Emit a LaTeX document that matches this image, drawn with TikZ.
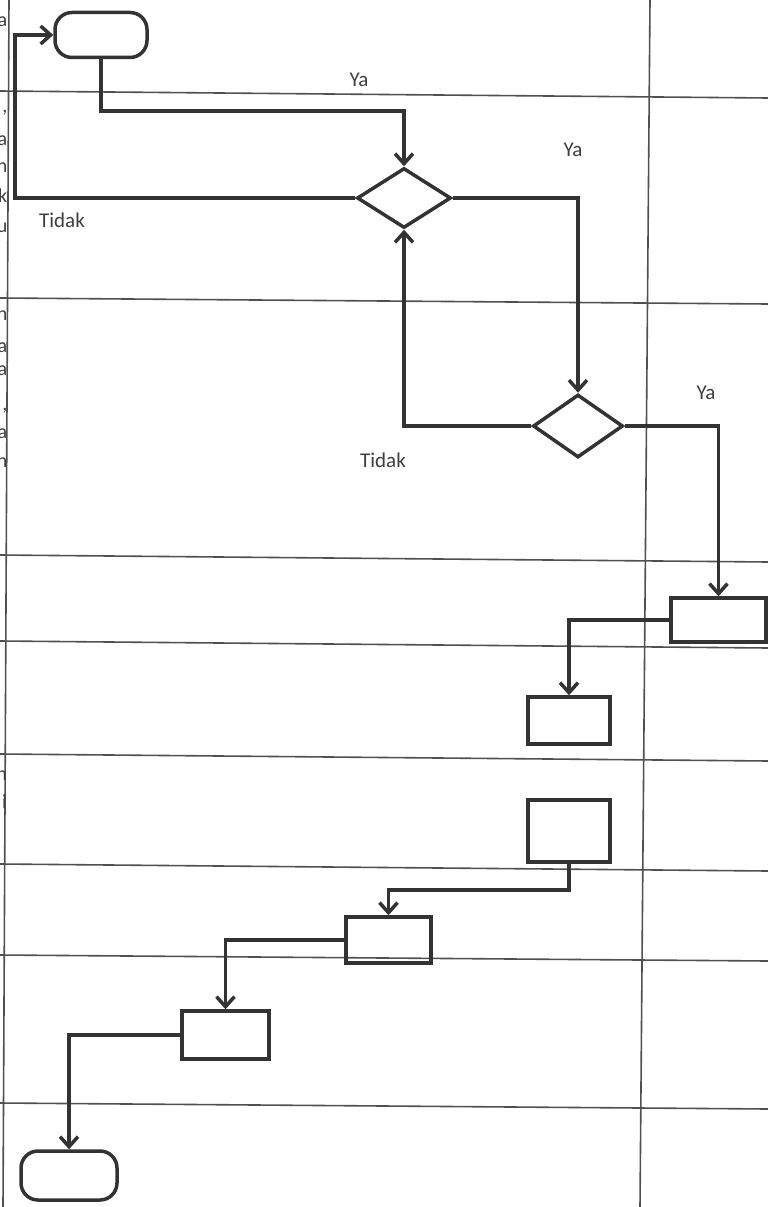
\documentclass[tikz,border=0pt]{standalone}
\usepackage{fontspec}
\setmainfont{Carlito}
\usetikzlibrary{arrows.meta,shapes.geometric}
\definecolor{ink}{HTML}{333333}
\definecolor{grid}{HTML}{505050}
\definecolor{txt}{HTML}{3F3F3F}
\tikzset{
  conn/.style={draw=ink,line width=3.5pt,line join=miter},
  arr/.style={conn,-{Straight Barb[length=10pt,width=18pt]}},
  gridline/.style={draw=grid,line width=1.6pt},
  boxnode/.style={draw=ink,line width=3.5pt,rectangle,inner sep=0pt},
  termnode/.style={draw=ink,line width=3.5pt,rectangle,rounded corners=17pt,inner sep=0pt},
  decnode/.style={draw=ink,line width=3.5pt,diamond,inner sep=0pt},
  lbl/.style={text=txt,font=\fontsize{21}{25}\selectfont,inner sep=0pt},
  frag/.style={text=txt,font=\fontsize{20}{24}\selectfont,inner sep=0pt,anchor=base east}
}
\begin{document}
\begin{tikzpicture}[x=1pt,y=-1pt]
\useasboundingbox (0,0) rectangle (768,1207);
\fill[white] (0,0) rectangle (768,1207);
% table lines
\draw[gridline] (9,0) -- (3,1207);
\draw[gridline] (650,0) -- (640,1207);
\draw[gridline] (0,91) -- (768,98);
\draw[gridline] (0,298) -- (768,304);
\draw[gridline] (0,555) -- (768,562);
\draw[gridline] (0,641) -- (768,648);
\draw[gridline] (0,754) -- (768,761);
\draw[gridline] (0,864) -- (768,871);
\draw[gridline] (0,955) -- (768,961);
\draw[gridline] (0,1103) -- (768,1109);
% clipped text of the left column (cut off at the page edge, as in the scan)
\node[frag] (f1) at (7.5,27) {a};
\node[frag] (f2) at (7.5,112) {,};
\node[frag] (f3) at (7.5,145) {a};
\node[frag] (f4) at (7.5,172) {n};
\node[frag] (f5) at (7.5,202) {k};
\node[frag] (f6) at (7.5,232) {u};
\node[frag] (f7) at (7.5,320) {n};
\node[frag] (f8) at (7.5,352) {a};
\node[frag] (f9) at (7.5,375) {a};
\node[frag] (f10) at (7.5,410) {,};
\node[frag] (f11) at (7.5,438) {a};
\node[frag] (f12) at (7.5,467) {n};
\node[frag] (f13) at (7,780) {n};
\node[frag] (f14) at (7,808) {i};
% shapes
\node[termnode,minimum width=92pt,minimum height=45pt] (start) at (101,35) {};
\node[decnode,minimum width=94pt,minimum height=60pt] (d1) at (404,198) {};
\node[decnode,minimum width=90pt,minimum height=63pt] (d2) at (578,426) {};
\node[boxnode,minimum width=95pt,minimum height=44pt] (boxA) at (718.5,620) {};
\node[boxnode,minimum width=82pt,minimum height=47pt] (boxB) at (569,720.5) {};
\node[boxnode,minimum width=82pt,minimum height=62pt] (boxC) at (569,831) {};
\node[boxnode,minimum width=85pt,minimum height=46pt] (boxD) at (388.5,940) {};
\node[boxnode,minimum width=87pt,minimum height=48pt] (boxE) at (225.5,1035) {};
\node[termnode,minimum width=96pt,minimum height=49pt] (stop) at (69,1175.5) {};
% helper coordinates
\coordinate (c1) at (404,111);
\coordinate (c2) at (15,198);
\coordinate (c3) at (388.5,890);
% connectors
\draw[arr] (start.south) |- (c1) -- (d1.north);
\draw[arr] (d1.west) -- (c2) |- (start.west);
\draw[arr] (d1.east) -| (d2.north);
\draw[arr] (d2.west) -| (d1.south);
\draw[arr] (d2.east) -| (boxA.north);
\draw[arr] (boxA.west) -| (boxB.north);
\draw[arr] (boxC.south) |- (c3) -- (boxD.north);
\draw[arr] (boxD.west) -| (boxE.north);
\draw[arr] (boxE.west) -| (stop.north);
% labels
\node[lbl] (l1) at (359,80) {Ya};
\node[lbl] (l2) at (573,150) {Ya};
\node[lbl] (l3) at (62,220) {Tidak};
\node[lbl] (l4) at (383,460) {Tidak};
\node[lbl] (l5) at (706,393) {Ya};
\end{tikzpicture}
\end{document}
